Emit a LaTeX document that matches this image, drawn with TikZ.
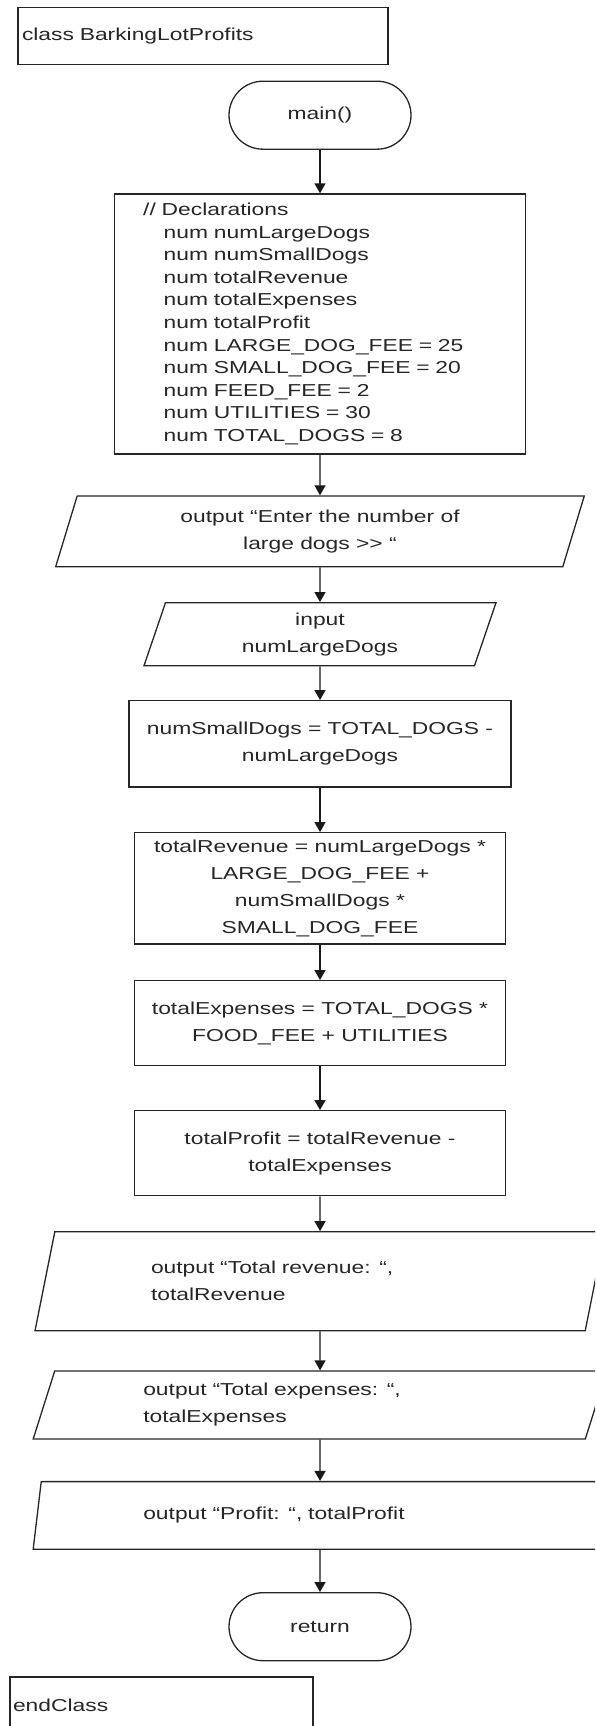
\documentclass[tikz,border=0pt]{standalone}
\usepackage{fontspec}
\setmainfont[FakeStretch=1.32]{Liberation Sans}
\usetikzlibrary{arrows.meta,shapes.geometric}
\tikzset{>={Triangle[length=10pt,width=11pt]}}
\tikzset{%
    box/.style={draw=black!85, line width=1.3pt, rectangle, inner sep=0pt, align=center},
    io/.style={draw=black!85, line width=1.3pt, trapezium, trapezium left angle=63.5,
        trapezium right angle=116.5, trapezium stretches body, inner sep=0pt, align=center},
    terminal/.style={draw=black!85, line width=1.3pt, rectangle, rounded corners=34pt,
        minimum width=182pt, minimum height=68pt, inner sep=0pt},
    flow/.style={->, line width=1.3pt, draw=black!90}
}

\begin{document}
\begin{tikzpicture}[x=1pt, y=-1pt, font=\fontsize{17.3}{27}\selectfont, text=black!85]
\useasboundingbox (0,0) rectangle (595,1726);
\clip (0,0) rectangle (595,1726);

\node[box, text width=362pt, align=left, minimum width=370pt, minimum height=57pt] (cls) at (203,35.8) {class BarkingLotProfits};

\node[terminal] (main) at (320,115.2) {main()};

\node[box, font=\fontsize{17.3}{22.6}\selectfont, text width=353.6pt, align=left,
    minimum width=411.4pt, minimum height=260pt] (decl) at (320,324) {// Declarations\\
\hspace*{20.5pt}num numLargeDogs\\
\hspace*{20.5pt}num numSmallDogs\\
\hspace*{20.5pt}num totalRevenue\\
\hspace*{20.5pt}num totalExpenses\\
\hspace*{20.5pt}num totalProfit\\
\hspace*{20.5pt}num LARGE\_DOG\_FEE = 25\\
\hspace*{20.5pt}num SMALL\_DOG\_FEE = 20\\
\hspace*{20.5pt}num FEED\_FEE = 2\\
\hspace*{20.5pt}num UTILITIES = 30\\
\hspace*{20.5pt}num TOTAL\_DOGS = 8};

\node[io, minimum width=528.6pt, minimum height=70.7pt] (askdogs) at (320,531.3) {output “Enter the number of\\large dogs >\kern0pt> “};
\node[io, minimum width=352pt, minimum height=63pt] (getdogs) at (320,634.2) {input\\numLargeDogs};

\node[box, minimum width=382pt, minimum height=86.3pt] (small) at (320,743.9) {numSmallDogs = TOTAL\_DOGS -\\numLargeDogs};
\node[box, minimum width=371pt, minimum height=111.3pt] (revenue) at (320,888.4) {totalRevenue = numLargeDogs *\\LARGE\_DOG\_FEE +\\numSmallDogs *\\SMALL\_DOG\_FEE};
\node[box, minimum width=371pt, minimum height=85pt] (expenses) at (320,1023.2) {totalExpenses = TOTAL\_DOGS *\\FOOD\_FEE + UTILITIES};
\node[box, minimum width=371pt, minimum height=85pt] (profit) at (320,1153.2) {totalProfit = totalRevenue -\\totalExpenses};

\node[io, text width=338pt, align=left, minimum width=570pt, minimum height=99pt] (showrev) at (320,1281.3) {output “Total revenue: “,\\totalRevenue};
\node[io, text width=353.4pt, align=left, minimum width=573.6pt, minimum height=68pt] (showexp) at (320,1405) {output “Total expenses: “,\\totalExpenses};
\node[io, text width=353.4pt, align=left, minimum width=573.6pt, minimum height=67.6pt] (showprof) at (320,1515.4) {output “Profit: “, totalProfit};

\node[terminal] (ret) at (320,1626.7) {return};

\node[box, text width=297pt, align=left, minimum width=303pt, minimum height=56pt] (endcls) at (161.5,1705) {endClass};

% flow
\draw[flow] (main) -- (decl);
\draw[flow] (decl) -- (askdogs);
\draw[flow] (askdogs) -- (getdogs);
\draw[flow] (getdogs) -- (small);
\draw[flow] (small) -- (revenue);
\draw[flow] (revenue) -- (expenses);
\draw[flow] (expenses) -- (profit);
\draw[flow] (profit) -- (showrev);
\draw[flow] (showrev) -- (showexp);
\draw[flow] (showexp) -- (showprof);
\draw[flow] (showprof) -- (ret);
\end{tikzpicture}
\end{document}
